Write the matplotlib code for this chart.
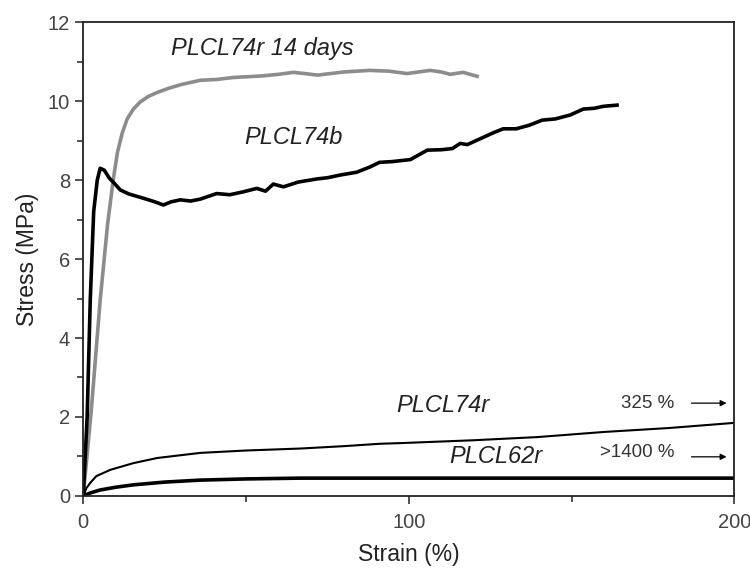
import numpy as np
import matplotlib.pyplot as plt

plt.rcParams['font.family'] = ['Liberation Sans', 'DejaVu Sans']

# stress-strain curves, strain in %, stress in MPa
strain_74r14 = [0, 2.5, 5.2, 7.5, 9.2, 10.5, 12, 13.5, 15.4, 17.5, 20, 22.7, 26, 30, 36, 41, 46, 55, 60, 64.5, 68, 72, 80, 88, 94, 99.5, 103, 106.6, 110, 112.7, 116.7, 121]
stress_74r14 = [0, 2.2, 4.96, 6.9, 8.0, 8.7, 9.2, 9.55, 9.8, 9.98, 10.12, 10.22, 10.32, 10.42, 10.53, 10.55, 10.6, 10.64, 10.68, 10.73, 10.7, 10.66, 10.74, 10.78, 10.76, 10.7, 10.74, 10.78, 10.74, 10.68, 10.73, 10.63]

strain_74b = [0, 1.2, 2.15, 3.2, 4.3, 5.2, 6.5, 8, 9.2, 11.4, 14, 18.5, 22, 24.6, 27, 29.8, 33, 36, 41, 45, 49, 53.3, 56, 58.4, 61.5, 66, 71.8, 75, 79, 84, 88, 91, 95, 100.5, 105.7, 110, 113.4, 115.8, 118, 122, 126, 129, 133, 137, 141, 145, 149.6, 153.6, 157, 159.8, 164]
stress_74b = [0, 2.0, 4.96, 7.2, 8.0, 8.3, 8.25, 8.05, 7.95, 7.75, 7.65, 7.54, 7.45, 7.37, 7.45, 7.5, 7.47, 7.52, 7.66, 7.63, 7.7, 7.79, 7.72, 7.9, 7.83, 7.95, 8.03, 8.06, 8.13, 8.2, 8.33, 8.45, 8.47, 8.52, 8.76, 8.77, 8.8, 8.93, 8.9, 9.05, 9.2, 9.3, 9.3, 9.39, 9.52, 9.55, 9.65, 9.8, 9.82, 9.87, 9.9]

strain_74r = [0, 1.0, 2.15, 4, 8.3, 15.4, 22.7, 36, 50, 66.7, 80, 91, 98.3, 120, 139.5, 160, 180, 200]
stress_74r = [0, 0.2, 0.33, 0.5, 0.66, 0.83, 0.96, 1.09, 1.15, 1.2, 1.26, 1.32, 1.34, 1.41, 1.49, 1.62, 1.72, 1.85]

strain_62r = [0, 2, 5.2, 10, 15.4, 25, 36, 50, 66.7, 80, 100, 150, 200]
stress_62r = [0, 0.07, 0.15, 0.22, 0.28, 0.35, 0.4, 0.43, 0.45, 0.45, 0.45, 0.45, 0.45]

fig, ax = plt.subplots(figsize=(7.5, 5.7), dpi=100)
fig.subplots_adjust(left=0.111, right=0.979, top=0.961, bottom=0.13)

ax.plot(strain_74r14, stress_74r14, color='#8c8c8c', lw=2.6)
ax.plot(strain_74b, stress_74b, color='black', lw=2.6)
ax.plot(strain_74r, stress_74r, color='black', lw=1.5)
ax.plot(strain_62r, stress_62r, color='black', lw=2.6)

ax.set_xlim(0, 200)
ax.set_ylim(0, 12)
ax.set_xticks([0, 100, 200])
ax.set_xticks([50, 150], minor=True)
ax.set_yticks(np.arange(0, 13, 2))
ax.set_yticks(np.arange(1, 12, 2), minor=True)
ax.tick_params(which='both', direction='out', colors='#333333', labelcolor='#444444',
               labelsize=14.5, width=1.2)
ax.tick_params(which='major', length=6)
ax.tick_params(which='minor', length=4)
ax.tick_params(axis='x', pad=6)
for s in ax.spines.values():
    s.set_linewidth(1.3)
    s.set_color('#222222')

ax.set_xlabel('Strain (%)', fontsize=16.5, color='#222222', labelpad=8)
ax.set_ylabel('Stress (MPa)', fontsize=16.5, color='#222222', labelpad=6)

ax.text(55, 11.34, 'PLCL74r 14 days', style='italic', fontsize=17, ha='center', va='center', color='#222222')
ax.text(64.6, 9.09, 'PLCL74b', style='italic', fontsize=17, ha='center', va='center', color='#222222')
ax.text(110.6, 2.3, 'PLCL74r', style='italic', fontsize=17, ha='center', va='center', color='#222222')
ax.text(126.6, 0.99, 'PLCL62r', style='italic', fontsize=17, ha='center', va='center', color='#222222')
ax.text(181.5, 2.33, '325 %', fontsize=13.5, ha='right', va='center', color='#333333')
ax.text(181.5, 1.11, '>1400 %', fontsize=13.5, ha='right', va='center', color='#333333')
ax.annotate('', xy=(198.5, 2.35), xytext=(186, 2.35),
            arrowprops=dict(arrowstyle='-|>', color='black', lw=0.9, mutation_scale=9))
ax.annotate('', xy=(198.5, 0.99), xytext=(186, 0.99),
            arrowprops=dict(arrowstyle='-|>', color='black', lw=0.9, mutation_scale=9))

fig.savefig('out.png')
